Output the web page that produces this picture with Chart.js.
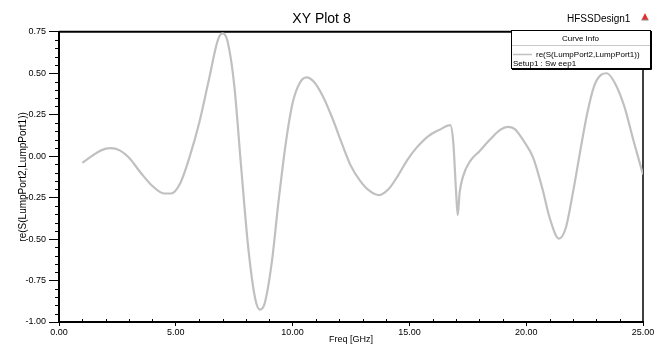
<!DOCTYPE html>
<html>
<head>
<meta charset="utf-8">
<title>XY Plot 8</title>
<script src="https://cdn.jsdelivr.net/npm/chart.js@4/dist/chart.umd.min.js"></script>
<style>
  html, body { margin: 0; padding: 0; background: #fff; }
</style>
</head>
<body>
<canvas id="xyPlot8" width="665" height="345"></canvas>
<script>
// re(S21) vs frequency, Setup1 : Sweep1
const freqGHz = [
  1.0, 1.4, 1.8, 2.2, 2.6, 3.0, 3.5, 4.0, 4.5, 4.8,
  5.2, 5.6, 6.0, 6.4, 6.8, 7.0, 7.2, 7.5, 7.8, 8.1,
  8.4, 8.6, 8.8, 9.1, 9.4, 9.7, 10.0, 10.3, 10.6, 10.9,
  11.3, 11.7, 12.1, 12.5, 12.9, 13.3, 13.7, 14.1, 14.5, 14.9,
  15.3, 15.8, 16.3, 16.75, 16.88, 17.0, 17.07, 17.15, 17.3, 17.6,
  18.0, 18.45, 18.9, 19.2, 19.5, 19.9, 20.3, 20.7, 21.0, 21.4,
  21.7, 22.0, 22.3, 22.6, 22.9, 23.2, 23.45, 23.8, 24.2, 24.6,
  25.0
];
const reS21 = [
  -0.04, 0.0, 0.035, 0.048, 0.035, -0.01, -0.10, -0.18, -0.225, -0.225,
  -0.16, 0.0, 0.20, 0.45, 0.70, 0.74, 0.70, 0.43, -0.07, -0.55,
  -0.86, -0.925, -0.89, -0.65, -0.27, 0.07, 0.32, 0.44, 0.475, 0.45,
  0.36, 0.23, 0.08, -0.06, -0.15, -0.21, -0.235, -0.20, -0.12, -0.025,
  0.05, 0.12, 0.16, 0.187, 0.08, -0.22, -0.356, -0.22, -0.12, -0.03,
  0.03, 0.10, 0.16, 0.177, 0.165, 0.09, -0.01, -0.20, -0.37, -0.497,
  -0.43, -0.22, 0.02, 0.25, 0.42, 0.49, 0.50, 0.44, 0.30, 0.09,
  -0.11
];
const xTicks = [0, 5, 10, 15, 20, 25];
const yTicks = [-1.0, -0.75, -0.5, -0.25, 0.0, 0.25, 0.5, 0.75];
const xMinorStep = 1;
const yMinorStep = 0.05;

const traceName = 're(S(LumpPort2,LumpPort1))';
const sweepName = 'Setup1 : Sw eep1';
const designName = 'HFSSDesign1';

const FONT = '"Liberation Sans", Arial, sans-serif';

// frame, minor ticks, design name and the curve-info box
const hfssDecor = {
  id: 'hfssDecor',
  beforeDatasetsDraw(chart) {
    const { ctx, chartArea: a, scales: { x, y } } = chart;
    ctx.save();
    ctx.strokeStyle = '#000';
    // top and right border of the plot frame
    ctx.lineWidth = 2;
    ctx.beginPath();
    ctx.moveTo(a.left, a.top);
    ctx.lineTo(a.right, a.top);
    ctx.stroke();
    ctx.lineWidth = 1.5;
    ctx.beginPath();
    ctx.moveTo(a.right, a.top);
    ctx.lineTo(a.right, a.bottom);
    ctx.stroke();

    // minor ticks
    ctx.lineWidth = 1;
    ctx.beginPath();
    for (let v = y.min; v <= y.max + 1e-9; v += yMinorStep) {
      if (Math.abs(v / 0.25 - Math.round(v / 0.25)) < 1e-6) continue;
      const py = Math.round(y.getPixelForValue(v)) + 0.5;
      ctx.moveTo(a.left - 4, py);
      ctx.lineTo(a.left, py);
    }
    for (let v = x.min; v <= x.max + 1e-9; v += xMinorStep) {
      if (v % 5 === 0) continue;
      const px = Math.round(x.getPixelForValue(v)) + 0.5;
      ctx.moveTo(px, a.bottom);
      ctx.lineTo(px, a.bottom - 3);
    }
    ctx.stroke();
    ctx.restore();
  },
  afterDraw(chart) {
    const { ctx } = chart;
    const ds = chart.data.datasets[0];
    ctx.save();

    // design name + warning marker
    ctx.fillStyle = '#000';
    ctx.font = '10px ' + FONT;
    ctx.textBaseline = 'middle';
    ctx.textAlign = 'left';
    ctx.fillText(designName, 567, 19);
    ctx.fillStyle = '#e03030';
    ctx.beginPath();
    ctx.moveTo(645, 13);
    ctx.lineTo(648.5, 20);
    ctx.lineTo(641.5, 20);
    ctx.closePath();
    ctx.fill();
    ctx.fillStyle = '#888';
    ctx.fillRect(641.5, 19.5, 7, 1);

    // curve info box
    const bx = 511, by = 30, bw = 139, bh = 38;
    ctx.fillStyle = '#fff';
    ctx.fillRect(bx, by, bw, bh);
    ctx.strokeStyle = '#000';
    ctx.lineWidth = 1;
    ctx.strokeRect(bx + 0.5, by + 0.5, bw, bh);
    ctx.beginPath();
    ctx.moveTo(bx + 1, by + bh + 1.5);
    ctx.lineTo(bx + bw + 1.5, by + bh + 1.5);
    ctx.lineTo(bx + bw + 1.5, by + 1);
    ctx.stroke();
    ctx.strokeStyle = '#c8c8c8';
    ctx.beginPath();
    ctx.moveTo(bx + 1, by + 15.5);
    ctx.lineTo(bx + bw, by + 15.5);
    ctx.stroke();

    ctx.fillStyle = '#000';
    ctx.font = '8px ' + FONT;
    ctx.textAlign = 'center';
    ctx.fillText('Curve Info', bx + bw / 2, by + 8.5);
    ctx.textAlign = 'left';
    ctx.fillText(ds.label, bx + 25, by + 24.5);
    ctx.fillText(sweepName, bx + 2, by + 33.5);

    ctx.strokeStyle = ds.borderColor;
    ctx.lineWidth = 1.5;
    ctx.beginPath();
    ctx.moveTo(bx + 2, by + 24.5);
    ctx.lineTo(bx + 21, by + 24.5);
    ctx.stroke();
    ctx.restore();
  }
};

new Chart(document.getElementById('xyPlot8'), {
  type: 'line',
  data: {
    datasets: [{
      label: traceName,
      data: freqGHz.map((f, i) => ({ x: f, y: reS21[i] })),
      borderColor: '#c0c0c0',
      borderWidth: 2.2,
      pointRadius: 0,
      fill: false,
      cubicInterpolationMode: 'monotone'
    }]
  },
  options: {
    responsive: false,
    animation: false,
    devicePixelRatio: 1,
    layout: { padding: { left: 0, right: 22, top: 0, bottom: 0 } },
    plugins: {
      legend: { display: false },
      tooltip: { enabled: false },
      title: {
        display: true,
        text: 'XY Plot 8',
        color: '#000',
        font: { family: FONT, size: 14, weight: 'normal' },
        padding: { top: 11, bottom: 4 }
      }
    },
    scales: {
      x: {
        type: 'linear',
        min: 0,
        max: 25,
        afterBuildTicks: (s) => { s.ticks = xTicks.map(v => ({ value: v })); },
        afterFit: (s) => { s.height = 23; },
        border: { display: true, color: '#000', width: 2 },
        grid: { drawOnChartArea: false, drawTicks: true, tickLength: 4, color: '#000' },
        ticks: {
          color: '#000',
          padding: 1,
          maxRotation: 0,
          autoSkip: false,
          font: { family: FONT, size: 9 },
          callback: (v) => Number(v).toFixed(2)
        },
        title: {
          display: true,
          text: 'Freq [GHz]',
          color: '#000',
          font: { family: FONT, size: 9 },
          padding: { top: 0, bottom: 0 }
        }
      },
      y: {
        type: 'linear',
        min: -1,
        max: 0.75,
        afterBuildTicks: (s) => { s.ticks = yTicks.map(v => ({ value: v })); },
        afterFit: (s) => { s.width = 59; },
        border: { display: true, color: '#000', width: 2 },
        grid: { drawOnChartArea: false, drawTicks: true, tickLength: 10, color: '#000' },
        ticks: {
          color: '#000',
          padding: 3,
          autoSkip: false,
          font: { family: FONT, size: 9 },
          callback: (v) => Number(v).toFixed(2)
        },
        title: {
          display: true,
          text: traceName,
          color: '#000',
          font: { family: FONT, size: 10 },
          padding: { top: 17, bottom: 0 }
        }
      }
    }
  },
  plugins: [hfssDecor]
});
</script>
</body>
</html>
